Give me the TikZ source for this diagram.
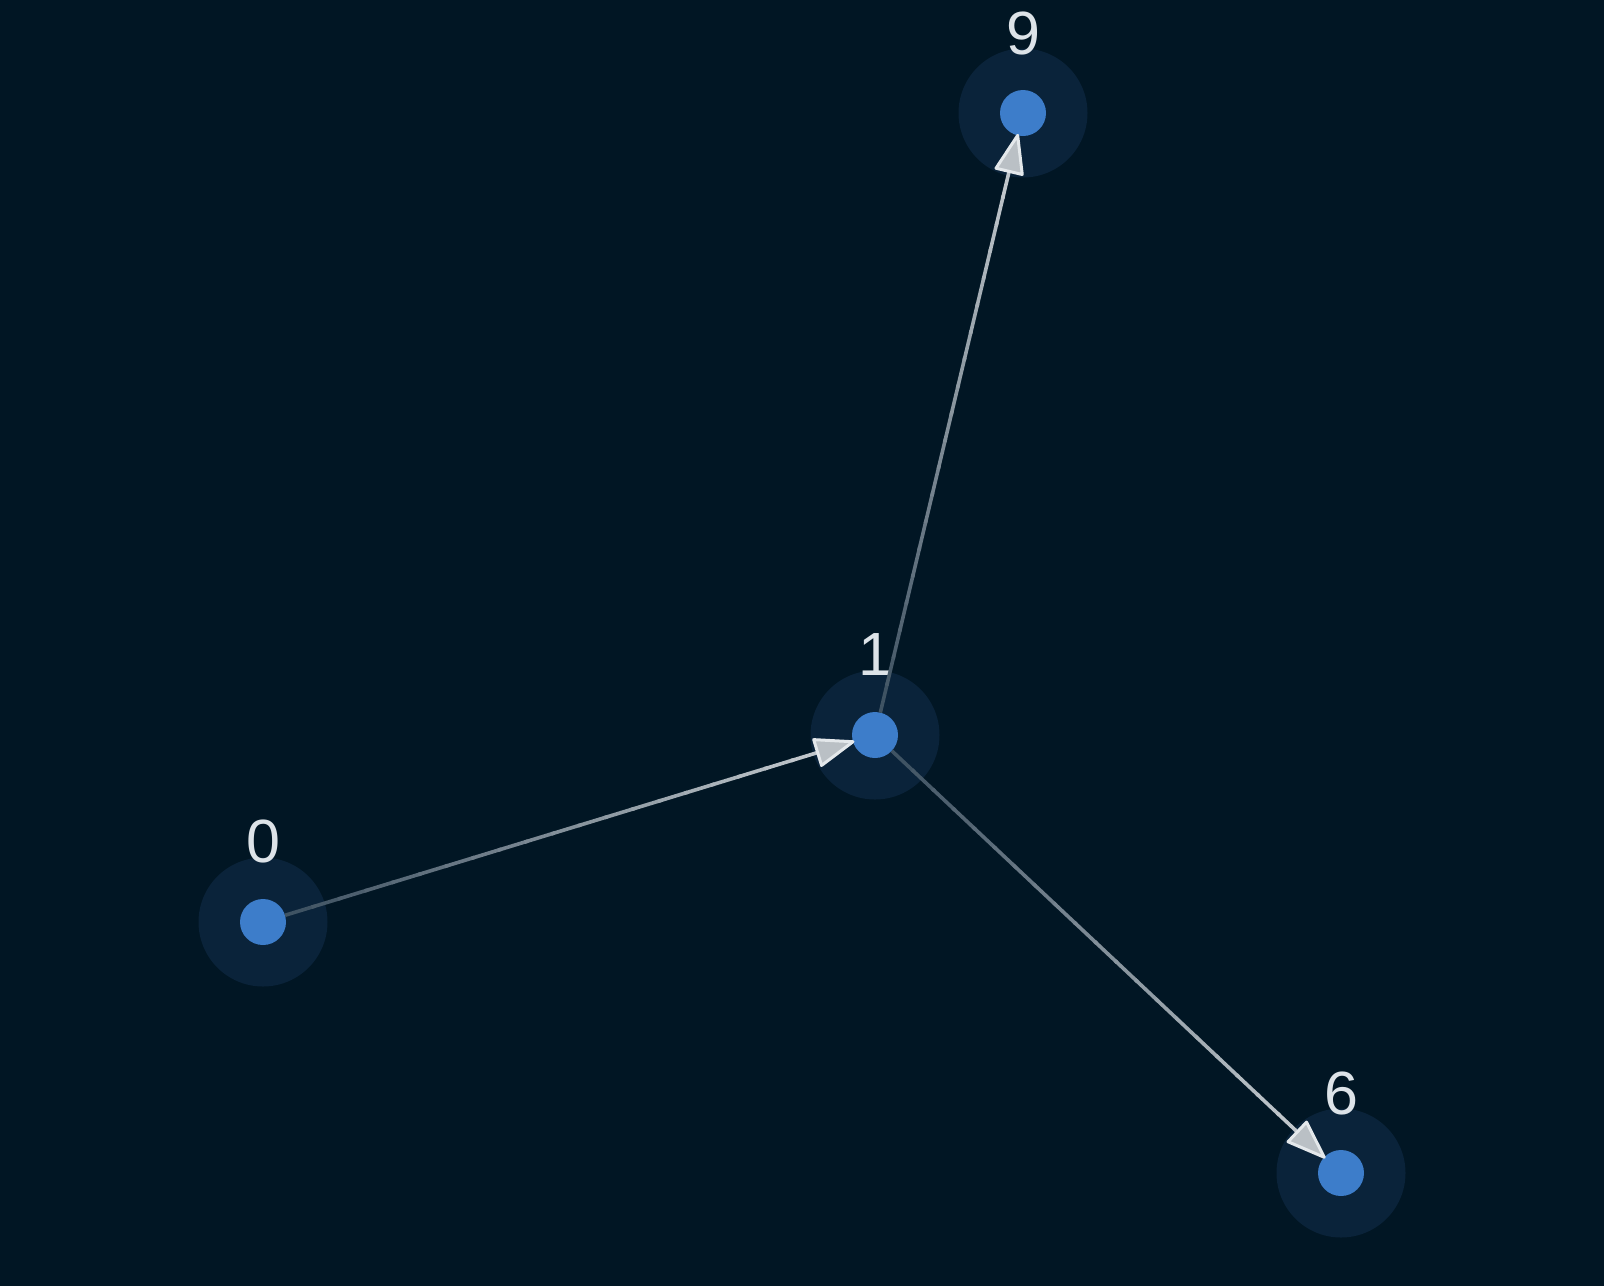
\documentclass[tikz,border=0pt]{standalone}
\usepackage{fontspec}
\setmainfont{Liberation Sans}
\usetikzlibrary{calc}
\definecolor{bgc}{HTML}{011624}
\definecolor{haloc}{HTML}{0A233A}
\definecolor{dotc}{HTML}{3D7DCA}
\definecolor{lblc}{HTML}{DDE3E8}
\definecolor{edgeA}{HTML}{3C5060}
\definecolor{edgeB}{HTML}{C3C9CE}
\definecolor{afill}{HTML}{BAC0C5}
\definecolor{astroke}{HTML}{E4E8EB}
\begin{document}
\begin{tikzpicture}[x=1pt,y=-1pt,
  halo/.style={circle,fill=haloc,minimum size=129pt,inner sep=0pt,draw=none},
  dotn/.style={circle,fill=dotc,minimum size=46pt,inner sep=0pt,draw=none},
  lbl/.style={text=lblc,font=\fontsize{61}{61}\selectfont,inner sep=0pt},
  seg/.style={line width=3.6pt},
  tipstyle/.style={fill=afill,draw=astroke,line width=3pt,line join=round}]
\fill[bgc] (0,0) rectangle (1604,1286);
\useasboundingbox (0,0) rectangle (1604,1286);
% halos
\node[halo] (h0) at (263,922) {};
\node[halo] (h1) at (875,735) {};
\node[halo] (h9) at (1023,113) {};
\node[halo] (h6) at (1341,1173) {};
% dots
\node[dotn] (n0) at (263,922) {};
\node[dotn] (n1) at (875,735) {};
\node[dotn] (n9) at (1023,113) {};
\node[dotn] (n6) at (1341,1173) {};
% labels
\node[lbl] (l0) at (263,841) {0};
\node[lbl] (l1) at (875,655) {1};
\node[lbl] (l9) at (1023,33) {9};
\node[lbl] (l6) at (1341,1093) {6};
% edges
\foreach \s/\t in {n0/n1, n1/n9, n1/n6} {
  \coordinate (S) at ($(\s)!23pt!(\t)$);
  \coordinate (T) at ($(\t)!23pt!(\s)$);
  \coordinate (B) at ($(T)!37pt!(S)$);
  \foreach \i in {0,...,19} {
    \pgfmathsetmacro\fa{\i/20}
    \pgfmathsetmacro\fb{(\i+1)/20+0.006}
    \pgfmathsetmacro\pp{100*(\i+0.5)/20}
    \draw[seg,color=edgeB!\pp!edgeA] ($(S)!\fa!(B)$) -- ($(S)!\fb!(B)$);
  }
  \draw[tipstyle] (T) -- ($(B)!13.5pt!90:(T)$) -- ($(B)!13.5pt!-90:(T)$) -- cycle;
}
\end{tikzpicture}
\end{document}
